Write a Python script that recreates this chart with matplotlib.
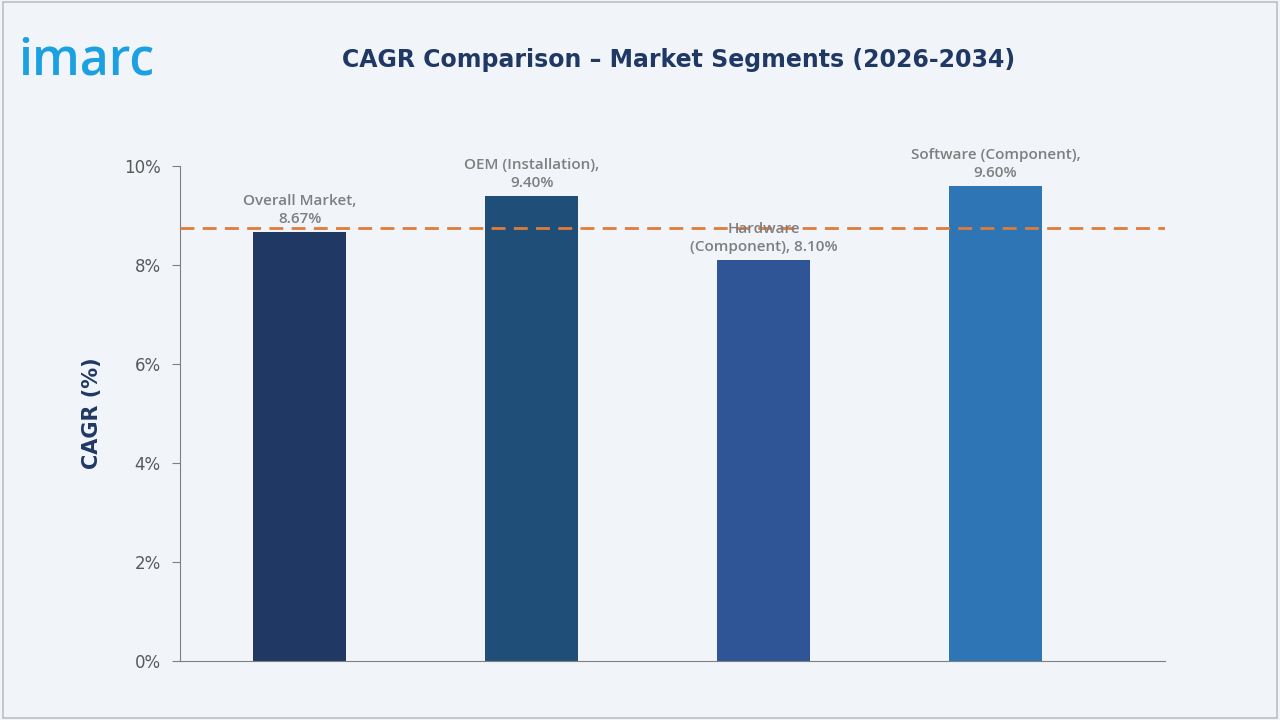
import matplotlib
matplotlib.use("Agg")
import matplotlib.pyplot as plt
from matplotlib.patches import Rectangle

categories = ["Overall Market", "OEM (Installation)", "Hardware (Component)", "Software (Component)"]
values = [8.67, 9.40, 8.10, 9.60]
labels = ["Overall Market,\n8.67%", "OEM (Installation),\n9.40%", "Hardware\n(Component), 8.10%", "Software (Component),\n9.60%"]
ref_line = 8.75
yticks = [0, 2, 4, 6, 8, 10]
colors = ["#1F3864", "#1F4E79", "#2F5597", "#2E75B6"]

bg = "#F1F4F9"
fig = plt.figure(figsize=(12.8, 7.2), dpi=100, facecolor=bg)
fig.patches.append(Rectangle((0.002, 0.003), 0.996, 0.994, transform=fig.transFigure,
                             fill=False, edgecolor="#BFBFBF", lw=1.2))
ax = fig.add_axes([0.1406, 0.082, 0.7694, 0.687])
ax.set_facecolor(bg)
x = list(range(len(values)))
ax.bar(x, values, width=0.4, color=colors, zorder=2)
ax.axhline(ref_line, color="#E07B39", ls=(0, (5, 3)), lw=2, zorder=3)
for xi, v, lab in zip(x, values, labels):
    ax.text(xi, v + 0.12, lab, ha="center", va="bottom", fontsize=11, color="#7F7F7F",
            linespacing=1.4, family="Open Sans", fontweight="semibold")
ax.set_xlim(-0.517, 3.73)
ax.set_ylim(0, 10)
ax.set_yticks(yticks)
ax.set_yticklabels([f"{t}%" for t in yticks], fontsize=12, color="#595959")
ax.set_xticks([])
for s in ["top", "right"]:
    ax.spines[s].set_visible(False)
ax.spines["left"].set_color("#7F7F7F")
ax.spines["bottom"].set_color("#7F7F7F")
ax.tick_params(axis="y", length=6, color="#7F7F7F", pad=8)
ax.set_ylabel("CAGR (%)", fontsize=15, fontweight="bold", color="#1F3864", labelpad=16)
fig.text(0.53, 0.917, "CAGR Comparison – Market Segments (2026-2034)", ha="center", va="center",
         fontsize=17, fontweight="bold", color="#1F3864")
fig.text(0.014, 0.915, "imarc", ha="left", va="center", fontsize=36, fontweight="semibold",
         color="#1BA1E2", family="Open Sans")
fig.savefig("out.png", dpi=100, facecolor=bg)
